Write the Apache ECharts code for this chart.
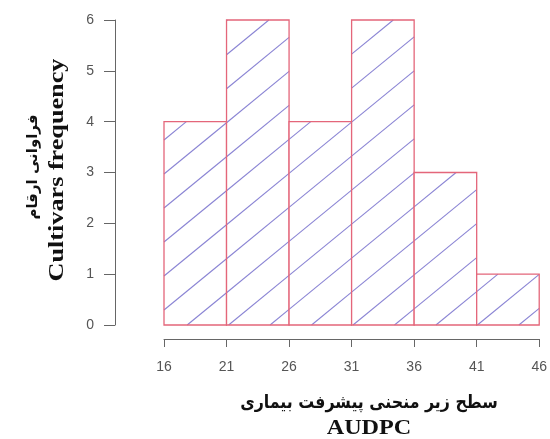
<!DOCTYPE html>
<html>
<head>
<meta charset="utf-8">
<script src="https://cdn.jsdelivr.net/npm/echarts@6/dist/echarts.min.js"></script>
<style>
html,body{margin:0;padding:0;background:#fff;}
#chart{width:550px;height:439px;}
</style>
</head>
<body>
<div id="chart"></div>
<script>
// ---- data ----
const binStarts = [16, 21, 26, 31, 36, 41];
const binEnds = [21, 26, 31, 36, 41, 46];
const frequencies = [4, 6, 4, 6, 3, 1];
const xTickValues = [16, 21, 26, 31, 36, 41, 46];
const yTickValues = [0, 1, 2, 3, 4, 5, 6];
const yTitleFa = 'فراوانی ارقام';
const yTitleEn = 'Cultivars frequency';
const xTitleFa = 'سطح زیر منحنی پیشرفت بیماری';
const xTitleEn = 'AUDPC';

const chart = echarts.init(document.getElementById('chart'), null, {renderer: 'canvas'});

const HATCH_T = 0.82;      // slope of hatch lines (screen)
const HATCH_S = 34;        // vertical spacing of hatch lines (px)
const HATCH_C0 = 310 + 164 * HATCH_T;

function renderItem(params, api) {
  const x0 = api.value(0), x1 = api.value(1), f = api.value(2);
  const pTop = api.coord([x0, f]);
  const pBot = api.coord([x1, 0]);
  const L = pTop[0], T = pTop[1], R = pBot[0], B = pBot[1];
  const children = [];
  children.push({type: 'rect', shape: {x: L, y: T, width: R - L, height: B - T},
    style: {fill: '#ffffff', stroke: null}});
  const vmin = T + L * HATCH_T, vmax = B + R * HATCH_T;
  const kmin = Math.ceil((vmin - HATCH_C0) / HATCH_S);
  const kmax = Math.floor((vmax - HATCH_C0) / HATCH_S);
  for (let k = kmin; k <= kmax; k++) {
    const v = HATCH_C0 + k * HATCH_S;
    const xa = Math.max(L, (v - B) / HATCH_T);
    const xb = Math.min(R, (v - T) / HATCH_T);
    if (xb - xa > 0.5) {
      children.push({type: 'line',
        shape: {x1: xa, y1: v - xa * HATCH_T, x2: xb, y2: v - xb * HATCH_T},
        style: {stroke: '#8a84d4', lineWidth: 1.1}});
    }
  }
  children.push({type: 'rect', shape: {x: L, y: T, width: R - L, height: B - T},
    style: {fill: null, stroke: '#e4667a', lineWidth: 1.3}});
  return {type: 'group', children: children};
}

const option = {
  animation: false,
  backgroundColor: '#ffffff',
  grid: {left: 164, right: 7, top: 20, bottom: 114},
  xAxis: {
    type: 'value', min: 16, max: 46, offset: 14,
    splitLine: {show: false},
    axisLine: {show: true, onZero: false, lineStyle: {color: '#666', width: 1}},
    axisTick: {show: true, length: 8, customValues: xTickValues, lineStyle: {color: '#666'}},
    axisLabel: {customValues: xTickValues, margin: 21, color: '#555', fontSize: 14,
      fontFamily: 'Liberation Sans', showMinLabel: true, showMaxLabel: true}
  },
  yAxis: {
    type: 'value', min: 0, max: 6, interval: 1, offset: 49,
    splitLine: {show: false},
    axisLine: {show: true, lineStyle: {color: '#666', width: 1}},
    axisTick: {show: true, length: 11, lineStyle: {color: '#666'}},
    axisLabel: {margin: 21, color: '#555', fontSize: 14, fontFamily: 'Liberation Sans',
      formatter: function (v) { return yTickValues.indexOf(v) >= 0 ? String(v) : ''; }}
  },
  series: [{
    type: 'custom',
    renderItem: renderItem,
    encode: {x: [0, 1], y: 2},
    data: binStarts.map(function (s, i) { return [s, binEnds[i], frequencies[i]]; })
  }],
  graphic: [
    {type: 'text', x: 33, y: 167, rotation: Math.PI / 2,
      style: {text: yTitleFa, fill: '#111', font: 'bold 15px "DejaVu Sans"', align: 'center', verticalAlign: 'middle'}},
    {type: 'text', x: 57, y: 170, rotation: Math.PI / 2, scaleX: 1.19,
      style: {text: yTitleEn, fill: '#111', font: 'bold 22px "Liberation Serif"', align: 'center', verticalAlign: 'middle'}},
    {type: 'text', x: 369, y: 403, scaleX: 0.88,
      style: {text: xTitleFa, fill: '#111', font: 'bold 18px "DejaVu Sans"', align: 'center', verticalAlign: 'middle'}},
    {type: 'text', x: 369, y: 428, scaleX: 1.1,
      style: {text: xTitleEn, fill: '#111', font: 'bold 22px "Liberation Serif"', align: 'center', verticalAlign: 'middle'}}
  ]
};
chart.setOption(option);
</script>
</body>
</html>
